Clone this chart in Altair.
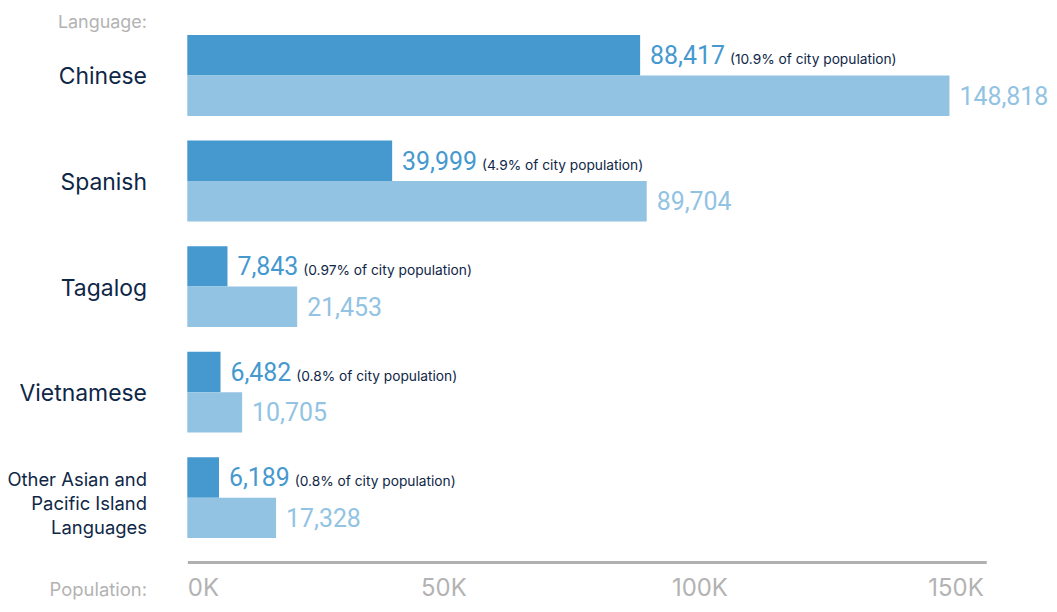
import altair as alt
import pandas as pd

languages = ["Chinese", "Spanish", "Tagalog", "Vietnamese",
             "Other Asian and Pacific Island Languages"]
limited = [88417, 39999, 7843, 6482, 6189]
speakers = [148818, 89704, 21453, 10705, 17328]
pct_city = ["10.9%", "4.9%", "0.97%", "0.8%", "0.8%"]
x_ticks = [0, 50000, 100000, 150000]

series_names = ["Limited English", "Speak at home"]
series_colors = ["#4599cf", "#92c3e3"]
NAVY = "#0f2747"
GREY = "#b3b3b3"
FONT = "Inter"
NUMFONT = "Roboto"

rows = []
for i, lang in enumerate(languages):
    rows.append({"language": lang, "series": series_names[0], "value": limited[i],
                 "pct": "(" + pct_city[i] + " of city population)"})
    rows.append({"language": lang, "series": series_names[1], "value": speakers[i],
                 "pct": ""})
df = pd.DataFrame(rows)

XMAX = 156000
W = 802
H = 505

multi = "Other Asian and Pacific Island Languages"
is_multi = f"datum.value == '{multi}'"

xscale = alt.Scale(domain=[0, XMAX], nice=False, zero=True)
yscale = alt.Scale(paddingInner=0.234, paddingOuter=0)
xaxis = alt.Axis(values=x_ticks, labelExpr="datum.value/1000 + 'K'",
                 grid=False, ticks=False, tickSize=0, domain=True,
                 domainColor="#b0b0b0", domainWidth=3, offset=24,
                 labelFont=FONT, labelFontSize=24, labelColor=GREY,
                 labelBaseline="alphabetic", labelPadding=34, labelFlush=True,
                 title="Population:", titleFont=FONT, titleFontSize=18.5,
                 titleColor=GREY, titleFontWeight="normal",
                 titleAlign="right", titleBaseline="alphabetic",
                 titleX=-41, titleY=34, titleAngle=0)
yaxis = alt.Axis(domain=False, ticks=False, tickSize=0, grid=False,
                 labelFont=FONT,
                 labelFontSize={"condition": {"test": is_multi, "value": 18.5}, "value": 23},
                 labelOffset={"condition": {"test": is_multi, "value": -18}, "value": 2},
                 labelColor=NAVY, labelPadding=41, labelAlign="right",
                 labelBaseline="middle", labelLimit=0, labelLineHeight=24,
                 labelExpr=f"{is_multi} ? ['Other Asian and', 'Pacific Island', 'Languages'] : datum.value",
                 title="Language:", titleFont=FONT, titleFontSize=18,
                 titleColor=GREY, titleFontWeight="normal",
                 titleAlign="right", titleBaseline="alphabetic",
                 titleX=-41, titleY=-8, titleAngle=0)

Y = alt.Y("language:N", sort=languages, scale=yscale, axis=yaxis)
yoff = alt.YOffset("series:N", sort=series_names,
                   scale=alt.Scale(paddingInner=0, paddingOuter=0))
color = alt.Color("series:N", scale=alt.Scale(domain=series_names, range=series_colors),
                  legend=None)

bars = alt.Chart(df).mark_bar().encode(
    x=alt.X("value:Q", scale=xscale, axis=xaxis),
    y=Y,
    yOffset=yoff,
    color=color,
)

values = alt.Chart(df).mark_text(align="left", baseline="alphabetic", dx=10, dy=9,
                                 font=NUMFONT, fontSize=25).encode(
    x=alt.X("value:Q", scale=xscale, axis=xaxis),
    y=Y,
    yOffset=yoff,
    color=color,
    text=alt.Text("value:Q", format=","),
)

# pct note placed after the number: number advance in Roboto 25 (tabular digits)
pct = alt.Chart(df).transform_filter(
    alt.datum.pct != ""
).transform_calculate(
    num=alt.expr.format(alt.datum.value, ","),
).transform_calculate(
    xpos=f"datum.value + (10 + 14.04*(length(datum.num) - 1) + 4.9 + 5) * {XMAX} / {W}"
).mark_text(align="left", baseline="alphabetic", dy=9, font=FONT, fontSize=13.8,
            color=NAVY).encode(
    x=alt.X("xpos:Q", scale=xscale, axis=xaxis),
    y=Y,
    yOffset=yoff,
    text="pct:N",
)

chart = alt.layer(bars, values, pct).properties(
    width=W, height=H,
    autosize=alt.AutoSizeParams(type="none"),
    padding={"top": 26, "left": 180, "right": 63, "bottom": 65},
).configure_view(stroke=None)

chart.save("out.html", embed_options={"renderer": "svg", "actions": False})
